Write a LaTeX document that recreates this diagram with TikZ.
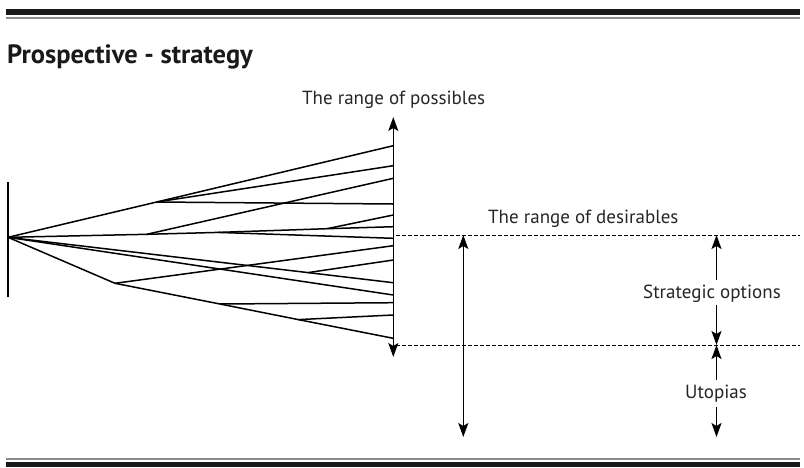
\documentclass[tikz,border=0pt]{standalone}
\usepackage{fontspec}
\setmainfont{PT Sans}
\usetikzlibrary{arrows.meta}
\begin{document}
\begin{tikzpicture}[x=1pt,y=-1pt,
  tip/.tip={Stealth[length=14pt,width=10pt,inset=3pt]},
  branch/.style={line width=1.5pt, line join=round},
  dbl/.style={line width=1.5pt, tip-tip},
  sgl/.style={line width=1.5pt, -tip},
  guide/.style={line width=0.8pt, dash pattern=on 3.5pt off 2.5pt},
  lbl/.style={inner sep=0pt, text=black!85, font=\fontsize{19}{19}\selectfont},
  ttl/.style={inner sep=0pt, text=black!90, font=\bfseries\fontsize{26.5}{26.5}\selectfont}]
\useasboundingbox (0,0) rectangle (804,467);
% frame bars
\fill[black!90] (6,9) rectangle (800,15);
\fill[black!45] (6,17) rectangle (800,18.5);
\fill[black!45] (6,457.5) rectangle (800,460);
\fill[black!90] (6,462) rectangle (800,467);
% title
\node[ttl, anchor=base west] (title) at (7,63) {Prospective - strategy};
% start bar
\coordinate (s1) at (8,182);
\coordinate (s2) at (8,297);
\draw[branch] (s1) -- (s2);
% tree points
\coordinate (O) at (8,237.3);
\coordinate (A) at (156.7,202);
\coordinate (B) at (146.7,234.3);
\coordinate (D) at (218,232.4);
\coordinate (C) at (327,228.7);
\coordinate (E) at (115,283.3);
\coordinate (F) at (220,304);
\coordinate (G) at (298.3,319.6);
\coordinate (H) at (308,272.6);
% end points on the range axis
\foreach \n/\y in {1/145.7,2/165.7,3/178.3,4/204,5/215,6/226.7,7/238.3,8/245.7,9/260,10/282.7,11/295,12/302.7,13/315,14/338.3}
  \coordinate (e\n) at (393.3,\y);
\draw[branch] (O) -- (A) -- (e1);
\draw[branch] (A) -- (e2);
\draw[branch] (A) -- (e4);
\draw[branch] (O) -- (B) -- (D) -- (C) -- (e6);
\draw[branch] (B) -- (e3);
\draw[branch] (C) -- (e5);
\draw[branch] (D) -- (e7);
\draw[branch] (O) -- (E) -- (F) -- (G) -- (e14);
\draw[branch] (E) -- (e8);
\draw[branch] (F) -- (e12);
\draw[branch] (G) -- (e13);
\draw[branch] (O) -- (H) -- (e10);
\draw[branch] (H) -- (e9);
\draw[branch] (O) -- (e11);
% range of possibles
\coordinate (pt) at (393.3,117);
\coordinate (pb) at (393.3,357);
\draw[dbl] (pt) -- (pb);
\node[lbl, anchor=base west] (poss) at (302,104) {The range of possibles};
% dashed guides
\coordinate (g1a) at (396,235);
\coordinate (g1b) at (800,235);
\coordinate (g2a) at (396,345);
\coordinate (g2b) at (800,345);
\draw[guide] (g1a) -- (g1b);
\draw[guide] (g2a) -- (g2b);
% range of desirables
\node[lbl, anchor=base west] (desi) at (488,223) {The range of desirables};
\coordinate (dt) at (463.3,235);
\coordinate (db) at (463.3,437);
\draw[dbl] (dt) -- (db);
% strategic options
\node[lbl, anchor=base west] (strat) at (643,298) {Strategic options};
\coordinate (st1) at (716.5,280);
\coordinate (st2) at (716.5,305);
\coordinate (stt) at (716.5,235);
\coordinate (stb) at (716.5,345);
\draw[sgl] (st1) -- (stt);
\draw[sgl] (st2) -- (stb);
% utopias
\node[lbl, anchor=base west] (uto) at (685,398) {Utopias};
\coordinate (u1) at (716.5,380);
\coordinate (u2) at (716.5,406.7);
\coordinate (ub) at (716.5,437);
\draw[sgl] (u1) -- (stb);
\draw[sgl] (u2) -- (ub);
\end{tikzpicture}
\end{document}
